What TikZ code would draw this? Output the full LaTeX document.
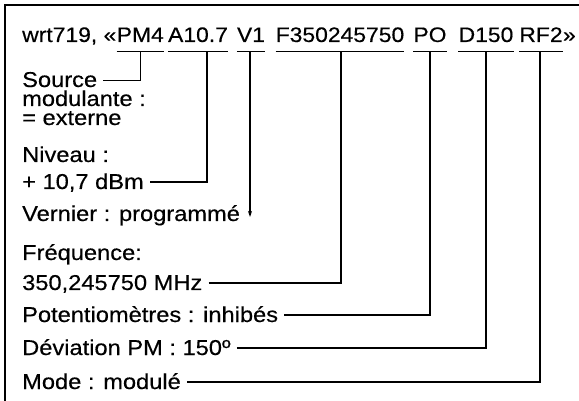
\documentclass[tikz,border=0pt]{standalone}
\usepackage{fontspec}
\setmainfont{Liberation Sans}[FakeStretch=1.09,FakeBold=0.4]
\newfontfamily\lblfont{Liberation Sans}[FakeStretch=1.1,FakeBold=0.4]
\usetikzlibrary{arrows.meta}
\begin{document}
\begin{tikzpicture}[x=1pt,y=-1pt,
  txt/.style={inner sep=0pt, font=\fontsize{21}{24}\selectfont},
  lbl/.style={inner sep=0pt, anchor=base west, text depth=0pt, text height=16pt,
    font=\lblfont\fontsize{21.5}{24}\selectfont},
  tok/.style={txt, anchor=base},
  conn/.style={line width=1.3pt},
  uline/.style={line width=1pt},
  frame/.style={line width=1.6pt}]
\useasboundingbox (0,0) rectangle (579,401);
\draw[frame] (5,401) -- (5,5) -- (579,5);
% title
\node[txt,anchor=base west] (t0) at (22,42) {wrt719, «};
\node[txt,anchor=base west] (tPM) at (t0.base east) {PM4};
\node[tok] (tA) at (198,42) {A10.7};
\node[tok] (tV) at (251,42) {V1};
\node[tok] (tF) at (340,42) {F350245750};
\node[tok] (tPO) at (430,42) {PO};
\node[tok] (tD) at (486,42) {D150};
\node[tok] (tRF) at (541,42) {RF2};
\node[txt,anchor=base west] (tq) at (tRF.base east) {»};
\foreach \t in {tPM,tA,tV,tF,tPO,tD,tRF}
  \draw[uline] ([yshift=-10pt]\t.base west) -- ([yshift=-10pt]\t.base east);
% labels
\node[lbl] (lS1) at (22,87) {Source};
\node[lbl] (lS2) at (22,106) {modulante :};
\node[lbl] (lS3) at (22,125) {= externe};
\node[lbl] (lN1) at (22,162) {Niveau :};
\node[lbl] (lN2) at (22,189) {+ 10,7 dBm};
\node[lbl] (lV) at (22,221) {Vernier : programmé};
\node[lbl] (lF1) at (22,260) {Fréquence:};
\node[lbl] (lF2) at (22,290) {350,245750 MHz};
\node[lbl] (lP) at (22,322) {Potentiomètres : inhibés};
\node[lbl] (lD) at (22,355) {Déviation PM : 150º};
\node[lbl] (lM) at (22,389) {Mode : modulé};
\coordinate (vArrow) at (250,217);
% connectors
\draw[conn] ([xshift=6pt,yshift=6.5pt]lS1.base east) -| ([yshift=-10pt]tPM.base);
\draw[conn] ([xshift=6pt,yshift=7pt]lN2.base east) -| ([xshift=9pt,yshift=-10pt]tA.base);
\draw[conn,-{Stealth[length=6pt,width=4pt]}] ([xshift=-1pt,yshift=-10pt]tV.base) -- (vArrow);
\draw[conn] ([xshift=6pt,yshift=7pt]lF2.base east) -| ([xshift=1pt,yshift=-10pt]tF.base);
\draw[conn] ([xshift=6pt,yshift=7pt]lP.base east) -| ([yshift=-10pt]tPO.base);
\draw[conn] ([xshift=6pt,yshift=7pt]lD.base east) -| ([yshift=-10pt]tD.base);
\draw[conn] ([xshift=6pt,yshift=7pt]lM.base east) -| ([xshift=-1pt,yshift=-10pt]tRF.base);
\end{tikzpicture}
\end{document}
